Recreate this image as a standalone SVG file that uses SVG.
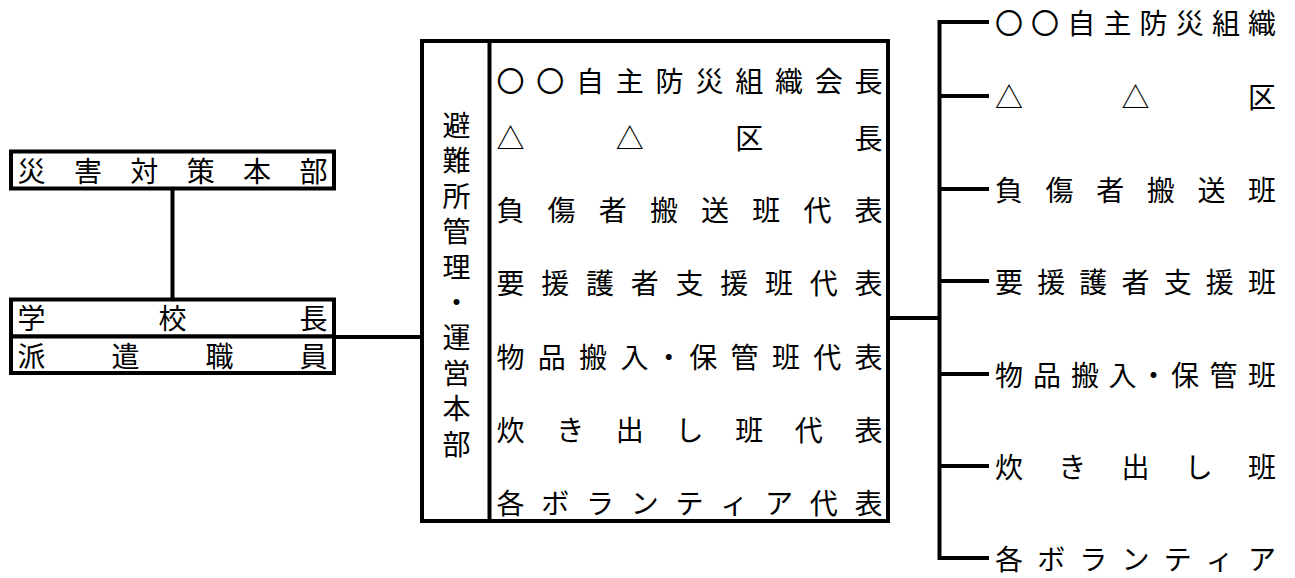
<svg xmlns="http://www.w3.org/2000/svg" width="1295" height="578" viewBox="0 0 1295 578">
<style>
  .box { fill: #ffffff; stroke: #000000; stroke-width: 4; }
  .ln { stroke: #000000; stroke-width: 4; fill: none; }
  text { font-family: "Noto Sans CJK JP", "Noto Sans CJK SC", sans-serif; font-size: 28px; fill: #000000; text-anchor: middle; dominant-baseline: central; }
</style>
<rect x="0" y="0" width="1295" height="578" fill="#ffffff"/>
<g id="connectors">
  <line class="ln" x1="172.5" y1="190" x2="172.5" y2="298"/>
  <line class="ln" x1="336" y1="337" x2="422" y2="337"/>
  <line class="ln" x1="888" y1="318" x2="939.5" y2="318"/>
  <line class="ln" x1="939.5" y1="20" x2="939.5" y2="560"/>
  <line class="ln" x1="939.5" y1="22" x2="989" y2="22"/>
  <line class="ln" x1="939.5" y1="96" x2="989" y2="96"/>
  <line class="ln" x1="939.5" y1="189" x2="989" y2="189"/>
  <line class="ln" x1="939.5" y1="281" x2="989" y2="281"/>
  <line class="ln" x1="939.5" y1="374" x2="989" y2="374"/>
  <line class="ln" x1="939.5" y1="466" x2="989" y2="466"/>
  <line class="ln" x1="939.5" y1="558" x2="989" y2="558"/>
</g>
<g id="node-saigai">
  <rect class="box" x="11" y="151.5" width="323" height="37"/>
  <text x="31.5 87.9 144.3 200.7 257.1 313.5" y="170">災害対策本部</text>
</g>
<g id="node-kouchou">
  <rect class="box" x="11" y="299.5" width="323" height="37"/>
  <text x="31.5 172.5 313.5" y="317">学校長</text>
</g>
<g id="node-haken">
  <rect class="box" x="11" y="336.5" width="323" height="36.5"/>
  <text x="31.5 125.5 219.5 313.5" y="355">派遣職員</text>
</g>
<g id="node-honbu">
  <rect class="box" x="422" y="41" width="466" height="480"/>
  <line class="ln" x1="489.5" y1="41" x2="489.5" y2="521"/>
  <text x="456.5 456.5 456.5 456.5 456.5 456.5 456.5 456.5 456.5 456.5" y="124 159.4 194.8 230.2 265.6 301 336.4 371.8 407.2 442.6">避難所管理・運営本部</text>
  <text x="510.5 550.3 590.1 629.8 669.6 709.4 749.2 789 828.7 868.5" y="80">〇〇自主防災組織会長</text>
  <text x="510.5 629.8 749.2 868.5" y="137">△△区長</text>
  <text x="510.5 561.6 612.8 663.9 715.1 766.2 817.4 868.5" y="209">負傷者搬送班代表</text>
  <text x="510.5 555.3 600 644.8 689.5 734.3 779 823.8 868.5" y="282">要援護者支援班代表</text>
  <text x="510.5 551.8 593.1 634.4 668.8 703.3 744.6 785.9 827.2 868.5" y="356">物品搬入・保管班代表</text>
  <text x="510.5 570.2 629.8 689.5 749.2 808.8 868.5" y="429">炊き出し班代表</text>
  <text x="510.5 555.3 600 644.8 689.5 734.3 779 823.8 868.5" y="502">各ボランティア代表</text>
</g>
<g id="node-bousai">
  <text x="1009 1045.1 1081.3 1117.4 1153.6 1189.7 1225.9 1262" y="22">〇〇自主防災組織</text>
</g>
<g id="node-ku">
  <text x="1009 1135.5 1262" y="96">△△区</text>
</g>
<g id="node-fusho">
  <text x="1009 1059.6 1110.2 1160.8 1211.4 1262" y="189">負傷者搬送班</text>
</g>
<g id="node-yoengo">
  <text x="1009 1051.2 1093.3 1135.5 1177.7 1219.8 1262" y="281">要援護者支援班</text>
</g>
<g id="node-buppin">
  <text x="1009 1047 1085 1122.5 1153.5 1185 1223.5 1262" y="374">物品搬入・保管班</text>
</g>
<g id="node-takidashi">
  <text x="1009 1072.25 1135.5 1198.75 1262" y="466">炊き出し班</text>
</g>
<g id="node-volunteer">
  <text x="1009 1051.2 1093.3 1135.5 1177.7 1219.8 1262" y="558">各ボランティア</text>
</g>
</svg>
